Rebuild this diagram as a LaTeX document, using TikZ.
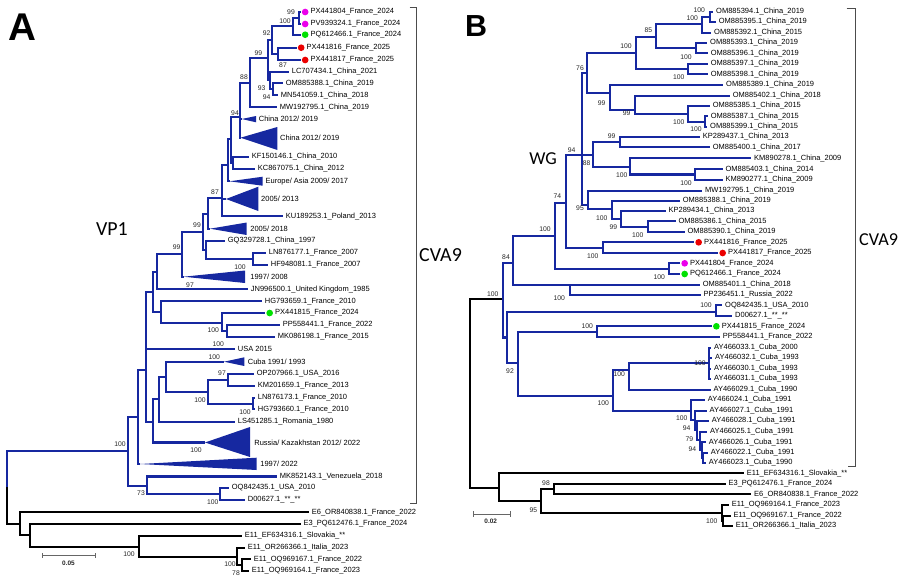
\documentclass[tikz,border=0pt]{standalone}
\usepackage{fontspec}
\setmainfont{Liberation Sans}
\newfontfamily\calfont{Carlito}
\usepackage{tikz}
\definecolor{cvblue}{RGB}{22,40,160}
\definecolor{dotred}{RGB}{235,0,0}
\definecolor{dotgrn}{RGB}{0,225,0}
\definecolor{dotmag}{RGB}{235,0,235}
\tikzset{
  blu/.style={draw=cvblue, line width=1.9pt},
  blk/.style={draw=black, line width=1.9pt},
  lab/.style={anchor=west, inner xsep=0.8mm, inner ysep=0pt, font=\fontsize{6.4}{7}\selectfont},
  dlab/.style={lab, inner xsep=3mm},
  bs/.style={inner sep=0pt, text=black!85, font=\fontsize{5.8}{6}\selectfont},
  dotr/.style={circle, fill=dotred, inner sep=0pt, minimum size=2mm},
  dotg/.style={circle, fill=dotgrn, inner sep=0pt, minimum size=2mm},
  dotm/.style={circle, fill=dotmag, inner sep=0pt, minimum size=2mm},
  brk/.style={draw=black!70, line width=0.6pt},
  bar/.style={draw=black!60, line width=0.8pt},
  big/.style={inner sep=0pt, font=\calfont\fontsize{17}{17}\selectfont}
}

\begin{document}
\begin{tikzpicture}[x=0.3mm, y=-0.3mm]
	\useasboundingbox (0,0) rectangle (900,581);
	% panel letters and clade names
	\node [inner sep=0pt, font=\bfseries\fontsize{33}{33}\selectfont] (panA) at (22,27) {A};
	\node [inner sep=0pt, font=\bfseries\fontsize{26}{26}\selectfont] (panB) at (476,26) {B};
	\node [big] (vp1) at (112,229.5) {VP1};
	\node [big, anchor=west] (cvaA) at (419,255) {CVA9};
	\node [big, font=\calfont\fontsize{15.5}{15.5}\selectfont] (wg) at (543,159) {WG};
	\node [big, anchor=west, font=\calfont\fontsize{15.5}{15.5}\selectfont] (cvaB) at (859,240) {CVA9};
	\draw [brk] (409.5,7.3) -- (416.3,7.3) -- (416.3,503.3) -- (410,503.3);
	\draw [brk] (846.7,8) -- (855,8) -- (855,466.7) -- (848.3,466.7);

	% ---------- tree A (VP1) ----------
	\coordinate (aR) at (7.3,487);
	\coordinate (aC) at (127.7,451);
	\coordinate (aN33) at (137.7,416.7);
	\coordinate (aN26) at (145.7,370);
	\coordinate (aN22) at (153.3,291.7);
	\coordinate (aN21) at (156.7,271.7);
	\coordinate (aN20) at (181.7,254.3);
	\coordinate (aN17) at (203.3,232);
	\coordinate (aN16) at (208.3,214);
	\coordinate (aN15) at (221.7,198.3);
	\coordinate (aN14) at (228.3,165);
	\coordinate (aN12) at (230.7,139);
	\coordinate (aN13) at (233.3,162.7);
	\coordinate (aN10) at (240,117);
	\coordinate (aN5) at (250,82.7);
	\coordinate (aN6) at (268.3,58);
	\coordinate (aN3) at (271.7,40);
	\coordinate (aN2) at (292.7,26.3);
	\coordinate (aN1) at (299,18);
	\coordinate (aN4) at (278.3,53.8);
	\coordinate (aN7) at (270,80);
	\coordinate (aN8) at (273,89.3);
	\coordinate (aN18) at (205.7,250);
	\coordinate (aN19) at (253.3,259);
	\coordinate (aN25) at (161,311.7);
	\coordinate (aN23) at (221.7,322.7);
	\coordinate (aN24) at (226.7,330.7);
	\coordinate (aN27) at (153.3,421.7);
	\coordinate (aN28) at (159.3,399);
	\coordinate (aN29) at (165.7,376.7);
	\coordinate (aN30) at (207.7,391.7);
	\coordinate (aN31) at (228.3,380);
	\coordinate (aN32) at (253.3,404);
	\coordinate (aN34) at (146.7,486);
	\coordinate (aN35) at (220,494);
	\coordinate (aO1) at (20,524);
	\coordinate (aO2) at (30,535);
	\coordinate (aO3) at (139,546.7);
	\coordinate (aO4) at (237.3,556.7);
	\coordinate (aO5) at (241.7,565);
	% collapsed clades (apex)
	\coordinate (aTcs) at (241.7,119);
	\coordinate (aTcb) at (240.5,137.7);
	\coordinate (aTea) at (229.5,181.3);
	\coordinate (aT13) at (226,199);
	\coordinate (aT18) at (210,228.7);
	\coordinate (aT08) at (183.5,276.7);
	\coordinate (aTcu) at (224,361.7);
	\coordinate (aTru) at (205,442.5);
	\coordinate (aT22) at (140,464);

	% leaves
	\node [dlab] (aPX804) at (300.5,12) {PX441804\_France\_2024};
	\node [dlab] (aPV324) at (300.5,24) {PV939324.1\_France\_2024};
	\node [dlab] (aPQ466) at (300.5,34.7) {PQ612466.1\_France\_2024};
	\node [dlab] (aPX816) at (296.5,47.7) {PX441816\_France\_2025};
	\node [dlab] (aPX817) at (300.5,60) {PX441817\_France\_2025};
	\node [lab] (aLC434) at (289,71.7) {LC707434.1\_China\_2021};
	\node [lab] (aOM388) at (283,83.3) {OM885388.1\_China\_2019};
	\node [lab] (aMN059) at (278,95.3) {MN541059.1\_China\_2018};
	\node [lab] (aMW795) at (277,107.3) {MW192795.1\_China\_2019};
	\node [lab] (aKF146) at (249,156.7) {KF150146.1\_China\_2010};
	\node [lab] (aKC075) at (255,168.7) {KC867075.1\_China\_2012};
	\node [lab] (aKU253) at (283,216.3) {KU189253.1\_Poland\_2013};
	\node [lab] (aGQ728) at (225,240.7) {GQ329728.1\_China\_1997};
	\node [lab] (aLN177) at (266,253) {LN876177.1\_France\_2007};
	\node [lab] (aHF081) at (268,265) {HF948081.1\_France\_2007};
	\node [lab] (aJN500) at (248,289.3) {JN996500.1\_United Kingdom\_1985};
	\node [lab] (aHG659) at (262,301.3) {HG793659.1\_France\_2010};
	\node [dlab] (aPX815) at (265,313) {PX441815\_France\_2024};
	\node [lab] (aPP441) at (280,324.7) {PP558441.1\_France\_2022};
	\node [lab] (aMK198) at (275,336.7) {MK086198.1\_France\_2015};
	\node [lab] (aUSA) at (235,349.3) {USA 2015};
	\node [lab] (aOP966) at (254,374) {OP207966.1\_USA\_2016};
	\node [lab] (aKM659) at (255,386) {KM201659.1\_France\_2013};
	\node [lab] (aLN173) at (255,397.7) {LN876173.1\_France\_2010};
	\node [lab] (aHG660) at (255,409.3) {HG793660.1\_France\_2010};
	\node [lab] (aLS285) at (235,421.7) {LS451285.1\_Romania\_1980};
	\node [lab] (aMK143) at (277,476.5) {MK852143.1\_Venezuela\_2018};
	\node [lab] (aOQ435) at (229,488) {OQ842435.1\_USA\_2010};
	\node [lab] (aD627) at (245,500) {D00627.1\_**\_**};
	\node [lab] (aE6) at (309,512.3) {E6\_OR840838.1\_France\_2022};
	\node [lab] (aE3) at (300.7,524) {E3\_PQ612476.1\_France\_2024};
	\node [lab] (aEF316) at (242,536) {E11\_EF634316.1\_Slovakia\_**};
	\node [lab] (aOR366) at (245,547.7) {E11\_OR266366.1\_Italia\_2023};
	\node [lab] (aOQ167) at (251,559.3) {E11\_OQ969167.1\_France\_2022};
	\node [lab] (aOQ164) at (249,571) {E11\_OQ969164.1\_France\_2023};
	\node [dotm] (aPX804d) at ([xshift=1.4mm]aPX804.west) {};
	\node [dotm] (aPV324d) at ([xshift=1.4mm]aPV324.west) {};
	\node [dotg] (aPQ466d) at ([xshift=1.4mm]aPQ466.west) {};
	\node [dotr] (aPX816d) at ([xshift=1.4mm]aPX816.west) {};
	\node [dotr] (aPX817d) at ([xshift=1.4mm]aPX817.west) {};
	\node [dotg] (aPX815d) at ([xshift=1.4mm]aPX815.west) {};

	% collapsed clades
	\fill [cvblue] (aTcs) -- (256,116) -- (256,122.3) -- cycle;
	\node [lab] (aTcsl) at (256,119) {China 2012/ 2019};
	\fill [cvblue] (aTcb) -- (277.3,127) -- (277.3,150) -- cycle;
	\node [lab] (aTcbl) at (277.3,137.7) {China 2012/ 2019};
	\fill [cvblue] (aTea) -- (262.7,176.7) -- (262.7,185.7) -- cycle;
	\node [lab] (aTeal) at (262.7,181.3) {Europe/ Asia 2009/ 2017};
	\fill [cvblue] (aT13) -- (258.3,186.7) -- (258.3,211) -- cycle;
	\node [lab] (aT13l) at (258.3,199) {2005/ 2013};
	\fill [cvblue] (aT18) -- (246.7,222.5) -- (246.7,235) -- cycle;
	\node [lab] (aT18l) at (247.5,228.7) {2005/ 2018};
	\fill [cvblue] (aT08) -- (245,270.5) -- (245,283) -- cycle;
	\node [lab] (aT08l) at (247.5,276.7) {1997/ 2008};
	\fill [cvblue] (aTcu) -- (244.3,357.3) -- (244.3,366) -- cycle;
	\node [lab] (aTcul) at (245,361.7) {Cuba 1991/ 1993};
	\fill [cvblue] (aTru) -- (250,427) -- (250,457) -- cycle;
	\node [lab] (aTrul) at (251.5,442.5) {Russia/ Kazakhstan 2012/ 2022};
	\fill [cvblue] (aT22) -- (256.7,457.7) -- (256.7,470) -- cycle;
	\node [lab] (aT22l) at (257.5,464) {1997/ 2022};

	% branches
	\draw [blu] (aR) |- (aC);
	\draw [blk] (aR) |- (aO1);
	\draw [blu] (aC) |- (aN33) (aC) |- (aN34);
	\draw [blu] (aN33) |- (aN26) (aN33) |- (aT22);
	\draw [blu] (aN26) |- (aN22) (aN26) |- (aUSA) (aN26) |- (aN27);
	\draw [blu] (aN22) |- (aN21) (aN22) |- (aN25);
	\draw [blu] (aN21) |- (aN20) (aN21) |- (aJN500);
	\draw [blu] (aN20) |- (aN17) (aN20) |- (aT08);
	\draw [blu] (aN17) |- (aN16) (aN17) |- (aN18);
	\draw [blu] (aN16) |- (aN15) (aN16) |- (aT18);
	\draw [blu] (aN15) |- (aN14) (aN15) |- (aT13) (aN15) |- (aKU253);
	\draw [blu] (aN14) |- (aN12) (aN14) |- (aTea);
	\draw [blu] (aN12) |- (aN10) (aN12) |- (aN13);
	\draw [blu] (aN13) |- (aKF146) (aN13) |- (aKC075);
	\draw [blu] (aN10) |- (aN5) (aN10) |- (aTcs) (aN10) |- (aTcb);
	\draw [blu] (aN5) |- (aN6) (aN5) |- (aMW795);
	\draw [blu] (aN6) |- (aN3) (aN6) |- (aN7);
	\draw [blu] (aN3) |- (aN2) (aN3) |- (aN4);
	\draw [blu] (aN2) |- (aN1) (aN2) |- (aPQ466);
	\draw [blu] (aN1) |- (aPX804) (aN1) |- (aPV324);
	\draw [blu] (aN4) |- (aPX816) (aN4) |- (aPX817);
	\draw [blu] (aN7) |- (aLC434) (aN7) |- (aN8);
	\draw [blu] (aN8) |- (aOM388) (aN8) |- (aMN059);
	\draw [blu] (aN18) |- (aGQ728) (aN18) |- (aN19);
	\draw [blu] (aN19) |- (aLN177) (aN19) |- (aHF081);
	\draw [blu] (aN25) |- (aHG659) (aN25) |- (aN23);
	\draw [blu] (aN23) |- (aPX815) (aN23) |- (aN24);
	\draw [blu] (aN24) |- (aPP441) (aN24) |- (aMK198);
	\draw [blu] (aN27) |- (aN28) (aN27) |- (aTru);
	\draw [blu] (aN28) |- (aN29) (aN28) |- (aLS285);
	\draw [blu] (aN29) |- (aTcu) (aN29) |- (aN30);
	\draw [blu] (aN30) |- (aN31) (aN30) |- (aN32);
	\draw [blu] (aN31) |- (aOP966) (aN31) |- (aKM659);
	\draw [blu] (aN32) |- (aLN173) (aN32) |- (aHG660);
	\draw [blu] (aN34) |- (aMK143) (aN34) |- (aN35);
	\draw [blu] (aN35) |- (aOQ435) (aN35) |- (aD627);
	\draw [blk] (aO1) |- (aE6) (aO1) |- (aO2);
	\draw [blk] (aO2) |- (aE3) (aO2) |- (aO3);
	\draw [blk] (aO3) |- (aEF316) (aO3) |- (aO4);
	\draw [blk] (aO4) |- (aOR366) (aO4) |- (aO5);
	\draw [blk] (aO5) |- (aOQ167) (aO5) |- (aOQ164);

	% bootstrap values A
	\node [bs] (bsA1) at (291,11.7) {99};
	\node [bs] (bsA2) at (285,21) {100};
	\node [bs] (bsA3) at (266.7,33.3) {92};
	\node [bs] (bsA4) at (258.3,53.3) {99};
	\node [bs] (bsA5) at (283,65.5) {87};
	\node [bs] (bsA6) at (244,77.3) {88};
	\node [bs] (bsA7) at (261.7,88.3) {93};
	\node [bs] (bsA8) at (266.7,97.5) {94};
	\node [bs] (bsA9) at (235,113) {94};
	\node [bs] (bsA10) at (215,192) {87};
	\node [bs] (bsA11) at (197,225) {99};
	\node [bs] (bsA12) at (176.7,247.3) {99};
	\node [bs] (bsA13) at (240,266.7) {100};
	\node [bs] (bsA14) at (190,285) {97};
	\node [bs] (bsA15) at (213.3,330) {100};
	\node [bs] (bsA16) at (218.3,344) {100};
	\node [bs] (bsA17) at (214.3,357.3) {100};
	\node [bs] (bsA18) at (222,373.3) {97};
	\node [bs] (bsA19) at (200,400) {100};
	\node [bs] (bsA20) at (245,412) {100};
	\node [bs] (bsA21) at (196,450.5) {100};
	\node [bs] (bsA22) at (120,444.3) {100};
	\node [bs] (bsA23) at (141,493.5) {73};
	\node [bs] (bsA24) at (212.7,501.7) {100};
	\node [bs] (bsA25) at (129,554) {100};
	\node [bs] (bsA26) at (230,564.3) {100};
	\node [bs] (bsA27) at (236,573.5) {78};

	% scale bar A
	\draw [bar] (42.7,555.7) -- (95,555.7);
	\draw [bar] (42.7,553) -- (42.7,558.4);
	\draw [bar] (95,553) -- (95,558.4);
	\node [bs, font=\bfseries\fontsize{5.5}{6}\selectfont] (sbA) at (68.5,563.5) {0.05};

	% ---------- tree B (WG) ----------
	\coordinate (bR) at (470,394);
	\coordinate (bN27) at (503.3,299.3);
	\coordinate (bN25) at (513.3,263.3);
	\coordinate (bN18) at (555,236);
	\coordinate (bN17) at (566,203.3);
	\coordinate (bN12) at (582,155);
	\coordinate (bN11) at (586.7,73);
	\coordinate (bN5) at (635.7,52.7);
	\coordinate (bN3) at (656,37.3);
	\coordinate (bN2) at (701.7,24);
	\coordinate (bN1) at (710,17);
	\coordinate (bN4) at (695.7,48.3);
	\coordinate (bN6) at (688.3,69.3);
	\coordinate (bN7) at (610,93.3);
	\coordinate (bN8) at (635,110);
	\coordinate (bN9) at (687.7,114.3);
	\coordinate (bN10) at (705,121.7);
	\coordinate (bN13) at (593.3,155);
	\coordinate (bN14) at (620,142);
	\coordinate (bN15) at (630,166.7);
	\coordinate (bN16) at (695,174.5);
	\coordinate (bN19) at (588.3,205);
	\coordinate (bN21) at (611.7,209.3);
	\coordinate (bN22) at (621,219);
	\coordinate (bN23) at (647.7,226.7);
	\coordinate (bNpx) at (602.7,247.7);
	\coordinate (bN24) at (669.3,268.7);
	\coordinate (bN26) at (570,284.7);
	\coordinate (bN28) at (506.7,337.5);
	\coordinate (bN29) at (715.7,311.7);
	\coordinate (bN30) at (518.3,363.3);
	\coordinate (bN31) at (597.3,331.7);
	\coordinate (bN32) at (613.3,395.7);
	\coordinate (bN33) at (629,370);
	\coordinate (bN34) at (709.3,363.3);
	\coordinate (bN35) at (690.7,410.7);
	\coordinate (bN36) at (695,420);
	\coordinate (bN37) at (697.3,430);
	\coordinate (bN38) at (700,440);
	\coordinate (bN39) at (701.7,450);
	\coordinate (bN40) at (703.3,458);
	\coordinate (bO1) at (499.3,488.3);
	\coordinate (bO2) at (540.7,500.7);
	\coordinate (bO3) at (554.3,489.3);
	\coordinate (bO4) at (721.7,513.3);
	\coordinate (bO5) at (723.3,520.8);

	% leaves
	\node [lab] (bOM394) at (713.3,11.7) {OM885394.1\_China\_2019};
	\node [lab] (bOM395) at (716,22) {OM885395.1\_China\_2019};
	\node [lab] (bOM392) at (711.3,32.7) {OM885392.1\_China\_2015};
	\node [lab] (bOM393) at (707.3,43) {OM885393.1\_China\_2019};
	\node [lab] (bOM396) at (708,53.3) {OM885396.1\_China\_2019};
	\node [lab] (bOM397) at (708,64) {OM885397.1\_China\_2019};
	\node [lab] (bOM398) at (708,74.3) {OM885398.1\_China\_2019};
	\node [lab] (bOM389) at (723.3,85) {OM885389.1\_China\_2019};
	\node [lab] (bOM402) at (730,95.7) {OM885402.1\_China\_2018};
	\node [lab] (bOM385) at (710,106) {OM885385.1\_China\_2015};
	\node [lab] (bOM387) at (708,116.3) {OM885387.1\_China\_2015};
	\node [lab] (bOM399) at (707.3,127) {OM885399.1\_China\_2015};
	\node [lab] (bKP437) at (700,137) {KP289437.1\_China\_2013};
	\node [lab] (bOM400) at (710,147.3) {OM885400.1\_China\_2017};
	\node [lab] (bKM278) at (751.3,158.3) {KM890278.1\_China\_2009};
	\node [lab] (bOM403) at (722.7,169.3) {OM885403.1\_China\_2014};
	\node [lab] (bKM277) at (722.7,179.7) {KM890277.1\_China\_2009};
	\node [lab] (bMW795) at (702.3,190.7) {MW192795.1\_China\_2019};
	\node [lab] (bOM388) at (680,200.7) {OM885388.1\_China\_2019};
	\node [lab] (bKP434) at (665.7,211) {KP289434.1\_China\_2013};
	\node [lab] (bOM386) at (675.7,221.3) {OM885386.1\_China\_2015};
	\node [lab] (bOM390) at (684.7,232) {OM885390.1\_China\_2019};
	\node [dlab] (bPX816) at (694,242.3) {PX441816\_France\_2025};
	\node [dlab] (bPX817) at (718,253) {PX441817\_France\_2025};
	\node [dlab] (bPX804) at (680,263.3) {PX441804\_France\_2024};
	\node [dlab] (bPQ466) at (680,274) {PQ612466.1\_France\_2024};
	\node [lab] (bOM401) at (700,284.7) {OM885401.1\_China\_2018};
	\node [lab] (bPP451) at (700.7,295) {PP236451.1\_Russia\_2022};
	\node [lab] (bOQ435) at (722.3,305.3) {OQ842435.1\_USA\_2010};
	\node [lab] (bD627) at (732.3,316) {D00627.1\_**\_**};
	\node [dlab] (bPX815) at (711.7,326.3) {PX441815\_France\_2024};
	\node [lab] (bPP441) at (720,337) {PP558441.1\_France\_2022};
	\node [lab] (bAY033) at (711.3,347.7) {AY466033.1\_Cuba\_2000};
	\node [lab] (bAY032) at (712.3,358) {AY466032.1\_Cuba\_1993};
	\node [lab] (bAY030) at (711.3,368.7) {AY466030.1\_Cuba\_1993};
	\node [lab] (bAY031) at (711.3,379) {AY466031.1\_Cuba\_1993};
	\node [lab] (bAY029) at (710.7,389.7) {AY466029.1\_Cuba\_1990};
	\node [lab] (bAY024) at (705,400) {AY466024.1\_Cuba\_1991};
	\node [lab] (bAY027) at (706.7,410.7) {AY466027.1\_Cuba\_1991};
	\node [lab] (bAY028) at (709,421) {AY466028.1\_Cuba\_1991};
	\node [lab] (bAY025) at (707.3,431.7) {AY466025.1\_Cuba\_1991};
	\node [lab] (bAY026) at (706,442.3) {AY466026.1\_Cuba\_1991};
	\node [lab] (bAY022) at (708,452.7) {AY466022.1\_Cuba\_1991};
	\node [lab] (bAY023) at (706,463) {AY466023.1\_Cuba\_1990};
	\node [lab] (bEF316) at (744,473.3) {E11\_EF634316.1\_Slovakia\_**};
	\node [lab] (bE3) at (725.7,484) {E3\_PQ612476.1\_France\_2024};
	\node [lab] (bE6) at (751.3,494.3) {E6\_OR840838.1\_France\_2022};
	\node [lab] (bOQ164) at (729,505) {E11\_OQ969164.1\_France\_2023};
	\node [lab] (bOQ167) at (730.7,515.7) {E11\_OQ969167.1\_France\_2022};
	\node [lab] (bOR366) at (733,526) {E11\_OR266366.1\_Italia\_2023};
	\node [dotr] (bPX816d) at ([xshift=1.4mm]bPX816.west) {};
	\node [dotr] (bPX817d) at ([xshift=1.4mm]bPX817.west) {};
	\node [dotm] (bPX804d) at ([xshift=1.4mm]bPX804.west) {};
	\node [dotg] (bPQ466d) at ([xshift=1.4mm]bPQ466.west) {};
	\node [dotg] (bPX815d) at ([xshift=1.4mm]bPX815.west) {};

	% branches
	\draw [blk] (bR) |- (bN27) (bR) |- (bO1);
	\draw [blu] (bN27) |- (bN25) (bN27) |- (bN28);
	\draw [blu] (bN25) |- (bN18) (bN25) |- (bN26);
	\draw [blu] (bN18) |- (bN17) (bN18) |- (bN24);
	\draw [blu] (bN17) |- (bN12) (bN17) |- (bNpx);
	\draw [blu] (bN12) |- (bN11) (bN12) |- (bN13) (bN12) |- (bN19);
	\draw [blu] (bN11) |- (bN5) (bN11) |- (bN7);
	\draw [blu] (bN5) |- (bN3) (bN5) |- (bN6);
	\draw [blu] (bN3) |- (bN2) (bN3) |- (bN4);
	\draw [blu] (bN2) |- (bN1) (bN2) |- (bOM392);
	\draw [blu] (bN1) |- (bOM394) (bN1) |- (bOM395);
	\draw [blu] (bN4) |- (bOM393) (bN4) |- (bOM396);
	\draw [blu] (bN6) |- (bOM397) (bN6) |- (bOM398);
	\draw [blu] (bN7) |- (bOM389) (bN7) |- (bN8);
	\draw [blu] (bN8) |- (bOM402) (bN8) |- (bN9);
	\draw [blu] (bN9) |- (bOM385) (bN9) |- (bN10);
	\draw [blu] (bN10) |- (bOM387) (bN10) |- (bOM399);
	\draw [blu] (bN13) |- (bN14) (bN13) |- (bN15);
	\draw [blu] (bN14) |- (bKP437) (bN14) |- (bOM400);
	\draw [blu] (bN15) |- (bKM278) (bN15) |- (bN16);
	\draw [blu] (bN16) |- (bOM403) (bN16) |- (bKM277);
	\draw [blu] (bN19) |- (bMW795) (bN19) |- (bN21);
	\draw [blu] (bN21) |- (bOM388) (bN21) |- (bN22);
	\draw [blu] (bN22) |- (bKP434) (bN22) |- (bN23);
	\draw [blu] (bN23) |- (bOM386) (bN23) |- (bOM390);
	\draw [blu] (bNpx) |- (bPX816) (bNpx) |- (bPX817);
	\draw [blu] (bN24) |- (bPX804) (bN24) |- (bPQ466);
	\draw [blu] (bN26) |- (bOM401) (bN26) |- (bPP451);
	\draw [blu] (bN28) |- (bN29) (bN28) |- (bN30);
	\draw [blu] (bN29) |- (bOQ435) (bN29) |- (bD627);
	\draw [blu] (bN30) |- (bN31) (bN30) |- (bN32);
	\draw [blu] (bN31) |- (bPX815) (bN31) |- (bPP441);
	\draw [blu] (bN32) |- (bN33) (bN32) |- (bN35);
	\draw [blu] (bN33) |- (bN34) (bN33) |- (bAY029);
	\draw [blu] (bN34) |- (bAY033) (bN34) |- (bAY032) (bN34) |- (bAY030) (bN34) |- (bAY031);
	\draw [blu] (bN35) |- (bAY024) (bN35) |- (bN36);
	\draw [blu] (bN36) |- (bAY027) (bN36) |- (bN37);
	\draw [blu] (bN37) |- (bAY028) (bN37) |- (bN38);
	\draw [blu] (bN38) |- (bAY025) (bN38) |- (bN39);
	\draw [blu] (bN39) |- (bAY026) (bN39) |- (bN40);
	\draw [blu] (bN40) |- (bAY022) (bN40) |- (bAY023);
	\draw [blk] (bO1) |- (bEF316) (bO1) |- (bO2);
	\draw [blk] (bO2) |- (bO3) (bO2) |- (bO4);
	\draw [blk] (bO3) |- (bE3) (bO3) |- (bE6);
	\draw [blk] (bO4) |- (bOQ164) (bO4) |- (bO5);
	\draw [blk] (bO5) |- (bOQ167) (bO5) |- (bOR366);

	% bootstrap values B
	\node [bs] (bsB1) at (699.3,10) {100};
	\node [bs] (bsB2) at (692.3,18.3) {100};
	\node [bs] (bsB3) at (648.3,30) {85};
	\node [bs] (bsB4) at (626,46) {100};
	\node [bs] (bsB5) at (686,56.7) {100};
	\node [bs] (bsB6) at (580,67.7) {76};
	\node [bs] (bsB7) at (678.7,77.3) {100};
	\node [bs] (bsB8) at (601.7,102.7) {99};
	\node [bs] (bsB9) at (626.7,112.7) {99};
	\node [bs] (bsB10) at (678.7,122.3) {100};
	\node [bs] (bsB11) at (696,129.3) {100};
	\node [bs] (bsB12) at (611.7,136) {99};
	\node [bs] (bsB13) at (571.7,150) {94};
	\node [bs] (bsB14) at (586.7,163.3) {88};
	\node [bs] (bsB15) at (621.7,175) {100};
	\node [bs] (bsB16) at (686,182.7) {100};
	\node [bs] (bsB17) at (557.3,196) {74};
	\node [bs] (bsB18) at (580,208.3) {95};
	\node [bs] (bsB19) at (601.7,218.3) {100};
	\node [bs] (bsB20) at (613.3,227.3) {99};
	\node [bs] (bsB21) at (545,229.3) {100};
	\node [bs] (bsB22) at (637.7,235) {100};
	\node [bs] (bsB23) at (592.7,256) {100};
	\node [bs] (bsB24) at (506,256.7) {84};
	\node [bs] (bsB25) at (659.3,276.7) {100};
	\node [bs] (bsB26) at (492.7,294) {100};
	\node [bs] (bsB27) at (559.3,298.3) {100};
	\node [bs] (bsB28) at (706,305) {100};
	\node [bs] (bsB29) at (587.3,326) {100};
	\node [bs] (bsB30) at (700,363.3) {100};
	\node [bs] (bsB31) at (510,370.7) {92};
	\node [bs] (bsB32) at (619.3,374) {100};
	\node [bs] (bsB33) at (603.3,403.3) {100};
	\node [bs] (bsB34) at (681.7,418.3) {100};
	\node [bs] (bsB35) at (686.7,428.3) {94};
	\node [bs] (bsB36) at (689.3,439.3) {79};
	\node [bs] (bsB37) at (692.3,449.3) {94};
	\node [bs] (bsB38) at (546,482.7) {98};
	\node [bs] (bsB39) at (533.3,510) {95};
	\node [bs] (bsB40) at (711.7,520.7) {100};

	% scale bar B
	\draw [bar] (473.3,514) -- (510.7,514);
	\draw [bar] (473.3,511.3) -- (473.3,516.7);
	\draw [bar] (510.7,511.3) -- (510.7,516.7);
	\node [bs, font=\bfseries\fontsize{5.5}{6}\selectfont] (sbB) at (490.7,521.7) {0.02};
\end{tikzpicture}
\end{document}
